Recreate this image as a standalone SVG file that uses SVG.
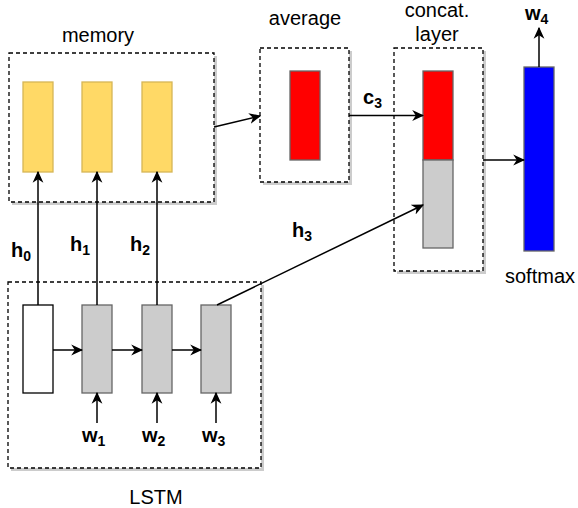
<svg xmlns="http://www.w3.org/2000/svg" width="578" height="508" viewBox="0 0 578 508">
<style>
.box{fill:#fff;stroke:#000;stroke-width:1.3;stroke-dasharray:4 3}
.shadow{fill:#aaa;opacity:0.6}
.mem{fill:#FFD966;stroke:#D6B656;stroke-width:1.3}
.red{fill:#FF0000;stroke:#666;stroke-width:1.3}
.gray{fill:#CCCCCC;stroke:#666;stroke-width:1.3}
.white{fill:#fff;stroke:#000;stroke-width:1.3}
.blue{fill:#0000FF;stroke:#666;stroke-width:1.3}
.lbl{font-family:"Liberation Sans",Arial,sans-serif;font-size:20px;fill:#000;text-anchor:middle}
.b{font-family:"Liberation Sans",Arial,sans-serif;font-size:20px;font-weight:bold;fill:#000}
.sub{font-size:14px}
.edge{stroke:#000;stroke-width:1.5;fill:none}
</style>
<defs>
<marker id="arr" viewBox="0 0 10 10" refX="9" refY="5" markerWidth="12" markerHeight="12" markerUnits="userSpaceOnUse" orient="auto">
<path d="M0,0.5 L10,5 L0,9.5 L3,5 z" fill="#000"/>
</marker>
</defs>
<g id="memory">
<rect class="shadow" x="12" y="56" width="205" height="149"/>
<rect class="box" x="9" y="53" width="205" height="149"/>
<text class="lbl" x="98" y="42">memory</text>
<rect class="mem" x="23" y="82" width="30" height="90"/>
<rect class="mem" x="82" y="82" width="30" height="90"/>
<rect class="mem" x="142" y="82" width="30" height="90"/>
</g>
<g id="average">
<rect class="shadow" x="263" y="51" width="89" height="134"/>
<rect class="box" x="260" y="48" width="89" height="134"/>
<text class="lbl" x="305" y="25">average</text>
<rect class="red" x="290" y="71" width="30" height="89"/>
</g>
<g id="concat">
<rect class="shadow" x="397" y="51" width="89" height="223"/>
<rect class="box" x="394" y="48" width="89" height="223"/>
<text class="lbl" x="437" y="17">concat.</text>
<text class="lbl" x="437" y="41">layer</text>
<rect class="red" x="423" y="71" width="30" height="89"/>
<rect class="gray" x="423" y="160" width="30" height="88"/>
</g>
<g id="softmax">
<rect class="blue" x="524" y="67" width="30" height="184"/>
<text class="lbl" x="540" y="283">softmax</text>
<text class="b" x="525" y="20">w<tspan class="sub" dy="4">4</tspan></text>
</g>
<g id="lstm">
<rect class="shadow" x="11" y="285" width="253" height="186"/>
<rect class="box" x="8" y="282" width="253" height="186"/>
<text class="lbl" x="156" y="504">LSTM</text>
<rect class="white" x="23" y="305" width="30" height="88"/>
<rect class="gray" x="82" y="305" width="30" height="88"/>
<rect class="gray" x="142" y="305" width="30" height="88"/>
<rect class="gray" x="201" y="305" width="30" height="88"/>
<text class="b" x="82" y="442">w<tspan class="sub" dy="4">1</tspan></text>
<text class="b" x="142" y="442">w<tspan class="sub" dy="4">2</tspan></text>
<text class="b" x="202" y="442">w<tspan class="sub" dy="4">3</tspan></text>
</g>
<g id="connectors">
<line class="edge" x1="214" y1="127" x2="260" y2="116" marker-end="url(#arr)"/>
<line class="edge" x1="349" y1="115.5" x2="423" y2="115.5" marker-end="url(#arr)"/>
<line class="edge" x1="483" y1="160" x2="524" y2="160" marker-end="url(#arr)"/>
<line class="edge" x1="539" y1="67" x2="539" y2="28" marker-end="url(#arr)"/>
<line class="edge" x1="217" y1="305" x2="423" y2="205" marker-end="url(#arr)"/>
<line class="edge" x1="38" y1="305" x2="38" y2="172" marker-end="url(#arr)"/>
<line class="edge" x1="97" y1="305" x2="97" y2="172" marker-end="url(#arr)"/>
<line class="edge" x1="157" y1="305" x2="157" y2="172" marker-end="url(#arr)"/>
<line class="edge" x1="53" y1="350" x2="82" y2="350" marker-end="url(#arr)"/>
<line class="edge" x1="112" y1="350" x2="142" y2="350" marker-end="url(#arr)"/>
<line class="edge" x1="172" y1="350" x2="201" y2="350" marker-end="url(#arr)"/>
<line class="edge" x1="97" y1="423" x2="97" y2="393" marker-end="url(#arr)"/>
<line class="edge" x1="157" y1="423" x2="157" y2="393" marker-end="url(#arr)"/>
<line class="edge" x1="216" y1="423" x2="216" y2="393" marker-end="url(#arr)"/>
<text class="b" x="11" y="257">h<tspan class="sub" dy="4">0</tspan></text>
<text class="b" x="70" y="251">h<tspan class="sub" dy="4">1</tspan></text>
<text class="b" x="130" y="251">h<tspan class="sub" dy="4">2</tspan></text>
<text class="b" x="292" y="237">h<tspan class="sub" dy="4">3</tspan></text>
<text class="b" x="363" y="104">c<tspan class="sub" dy="4">3</tspan></text>
</g>
</svg>
